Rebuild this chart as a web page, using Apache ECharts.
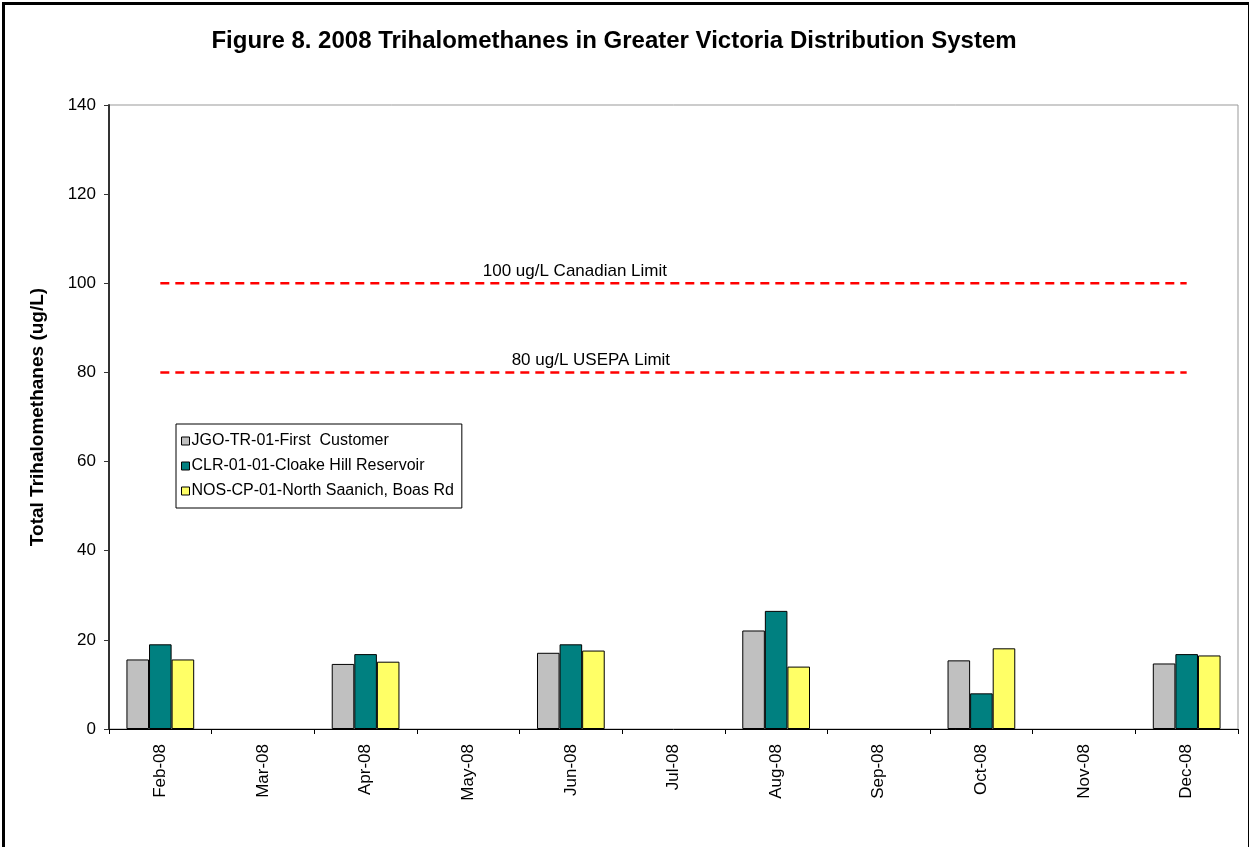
<!DOCTYPE html>
<html>
<head>
<meta charset="UTF-8">
<title>Trihalomethanes 2008</title>
<script src="https://cdn.jsdelivr.net/npm/echarts@6/dist/echarts.min.js"></script>
<style>
  html, body { margin: 0; padding: 0; background: #fff; }
  #view { width: 1249px; height: 847px; }
</style>
</head>
<body>
<div id="view"></div>
<script>
// months on the x axis
var months = ['Feb-08', 'Mar-08', 'Apr-08', 'May-08', 'Jun-08', 'Jul-08',
              'Aug-08', 'Sep-08', 'Oct-08', 'Nov-08', 'Dec-08'];

// sampling sites (ug/L), no samples in odd months
var firstCustomer = [15.6, null, 14.6, null, 17.1, null, 22.1, null, 15.4, null, 14.7];
var cloakeHill    = [19.0, null, 16.8, null, 19.0, null, 26.5, null, 8.0,  null, 16.8];
var northSaanich  = [15.6, null, 15.1, null, 17.6, null, 14.0, null, 18.1, null, 16.5];

// guideline limits
var canadianLimit = 100;
var usepaLimit = 80;

var yTicks = [0, 20, 40, 60, 80, 100, 120, 140];

var FONT = 'Liberation Sans, Arial, sans-serif';
var myChart = echarts.init(document.getElementById('view'));

function limitLine(name, value, labelText, dx) {
    var d = months.map(function () { return value; });
    // text sits above the Jun-08 point
    d[4] = {
        value: value,
        label: {
            show: true,
            position: 'top',
            distance: 3,
            offset: [dx, 0],
            formatter: labelText,
            color: '#000',
            fontSize: 17,
            fontFamily: FONT
        }
    };
    return {
        name: name,
        type: 'line',
        data: d,
        symbol: 'circle',
        symbolSize: 1,
        showSymbol: true,
        silent: true,
        itemStyle: { color: 'rgba(0,0,0,0)', borderWidth: 0 },
        lineStyle: { color: '#ff0000', width: 2.5, type: [9, 6] },
        z: 3
    };
}

function barSeries(name, color, data) {
    return {
        name: name,
        type: 'bar',
        data: data,
        barGap: '0%',
        barCategoryGap: '34%',
        itemStyle: { color: color, borderColor: '#000', borderWidth: 1 }
    };
}

var option = {
    backgroundColor: '#fff',
    animation: false,
    title: {
        text: 'Figure 8. 2008 Trihalomethanes in Greater Victoria Distribution System',
        left: 609,
        textAlign: 'center',
        top: 24,
        textStyle: {
            fontFamily: FONT,
            fontWeight: 'bold',
            fontSize: 24,
            color: '#000'
        }
    },
    legend: {
        data: ['JGO-TR-01-First  Customer', 'CLR-01-01-Cloake Hill Reservoir',
               'NOS-CP-01-North Saanich, Boas Rd'],
        orient: 'vertical',
        left: 176,
        top: 424,
        padding: [9, 8, 9, 5],
        itemGap: 9,
        itemWidth: 8,
        itemHeight: 8,
        icon: 'rect',
        borderColor: '#000',
        borderWidth: 1,
        itemStyle: { borderColor: '#000', borderWidth: 1 },
        textStyle: {
            fontFamily: FONT,
            fontSize: 16,
            color: '#000',
            padding: [0, 0, 0, -3]
        }
    },
    grid: {
        left: 109,
        right: 11,
        top: 105,
        bottom: 118,
        show: true,
        borderColor: '#999',
        borderWidth: 1
    },
    xAxis: {
        type: 'category',
        data: months,
        axisLine: { lineStyle: { color: '#000', width: 1 } },
        axisTick: { show: true, length: 5, lineStyle: { color: '#000' } },
        axisLabel: {
            rotate: 90,
            margin: 15,
            color: '#000',
            fontSize: 17,
            fontFamily: FONT
        }
    },
    yAxis: {
        type: 'value',
        min: 0,
        max: 140,
        interval: 20,
        name: 'Total Trihalomethanes (ug/L)',
        nameLocation: 'middle',
        nameGap: 62,
        nameTextStyle: {
            fontFamily: FONT,
            fontWeight: 'bold',
            fontSize: 19,
            color: '#000'
        },
        axisLine: { show: true, lineStyle: { color: '#333', width: 2 } },
        axisTick: { show: true, length: 5, lineStyle: { color: '#333' } },
        splitLine: { show: false },
        axisLabel: {
            color: '#000',
            fontSize: 17,
            margin: 13,
            fontFamily: FONT,
            formatter: function (v) { return yTicks.indexOf(v) >= 0 ? String(v) : ''; }
        }
    },
    graphic: [{
        type: 'rect',
        left: 1,
        top: 1,
        shape: { width: 1246, height: 860 },
        style: { fill: 'none', stroke: '#000', lineWidth: 3 },
        silent: true
    }],
    series: [
        barSeries('JGO-TR-01-First  Customer', '#c0c0c0', firstCustomer),
        barSeries('CLR-01-01-Cloake Hill Reservoir', '#008080', cloakeHill),
        barSeries('NOS-CP-01-North Saanich, Boas Rd', '#ffff66', northSaanich),
        limitLine('Canadian', canadianLimit, '100 ug/L Canadian Limit', 4),
        limitLine('USEPA', usepaLimit, '80 ug/L USEPA Limit', 20)
    ]
};

myChart.setOption(option);
</script>
</body>
</html>
